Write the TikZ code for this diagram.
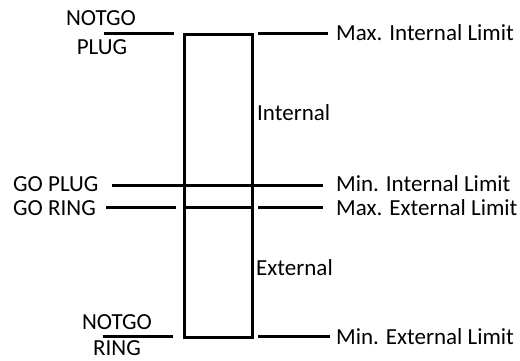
\documentclass[tikz,border=0pt]{standalone}
\usepackage{fontspec}
\setmainfont{Carlito}
\begin{document}
\begin{tikzpicture}[x=1pt,y=-1pt,
  lbl/.style={inner sep=0pt,font=\fontsize{23}{25}\selectfont,text=black},
  ln/.style={line width=3pt,black}]
\useasboundingbox (0,0) rectangle (520,360);
% bar
\node[draw,line width=3pt,minimum width=68pt,minimum height=303pt,inner sep=0pt,anchor=north west] (bar) at (183,33) {};
% labels left
\node[lbl] (ngp1) at (101,18) {NOTGO};
\node[lbl] (ngp2) at (102,47) {PLUG};
\node[lbl,anchor=west] (gop) at (13,184) {GO PLUG};
\node[lbl,anchor=west] (gor) at (13,208) {GO RING};
\node[lbl] (ngr1) at (117,322) {NOTGO};
\node[lbl] (ngr2) at (117,348) {RING};
% labels right
\node[lbl,anchor=west] (maxi) at (336,33) {Max. Internal Limit};
\node[lbl,anchor=west] (int) at (257,113) {Internal};
\node[lbl,anchor=west] (mini) at (336,184) {Min. Internal Limit};
\node[lbl,anchor=west] (maxe) at (336,208) {Max. External Limit};
\node[lbl,anchor=west] (ext) at (256,268) {External};
\node[lbl,anchor=west] (mine) at (336,337) {Min. External Limit};
% coordinates
\coordinate (a1) at (104,33); \coordinate (a2) at (174,33);
\coordinate (b1) at (258,33); \coordinate (b2) at (328,33);
\coordinate (c1) at (112,185); \coordinate (c2) at (323,185);
\coordinate (d1) at (106,207.5); \coordinate (d2) at (176,207.5);
\coordinate (e1) at (183,207.5); \coordinate (e2) at (251,207.5);
\coordinate (f1) at (258,207.5); \coordinate (f2) at (323,207.5);
\coordinate (g1) at (103,336); \coordinate (g2) at (173,336);
\coordinate (h1) at (258,336); \coordinate (h2) at (330,336);
\draw[ln] (a1) -- (a2);
\draw[ln] (b1) -- (b2);
\draw[ln] (c1) -- (c2);
\draw[ln] (d1) -- (d2);
\draw[ln] (e1) -- (e2);
\draw[ln] (f1) -- (f2);
\draw[ln] (g1) -- (g2);
\draw[ln] (h1) -- (h2);
\end{tikzpicture}
\end{document}
